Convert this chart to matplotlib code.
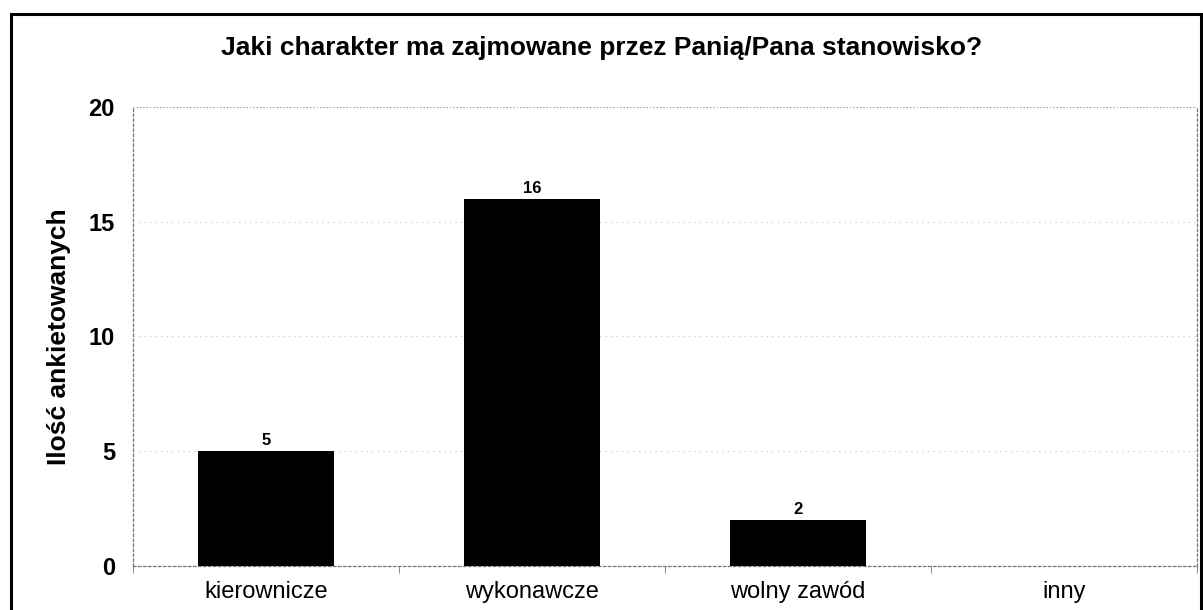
import matplotlib.pyplot as plt
from matplotlib.patches import Rectangle

categories = ["kierownicze", "wykonawcze", "wolny zawód", "inny"]
counts = [5, 16, 2, 0]
y_ticks = [0, 5, 10, 15, 20]

plt.rcParams['font.family'] = ['Liberation Sans', 'DejaVu Sans']

fig = plt.figure(figsize=(12.03, 6.10), dpi=100)
ax = fig.add_axes([0.1106, 0.0726, 0.8844, 0.752])

x = range(len(categories))
bars = ax.bar(x, counts, width=0.51, color="black", zorder=3)
for b, v in zip(bars, counts):
    if v > 0:
        ax.text(b.get_x() + b.get_width() / 2, v + 0.12, str(v),
                ha="center", va="bottom", fontsize=12, fontweight="bold")

ax.set_xlim(-0.5, len(categories) - 0.5)
ax.set_ylim(0, 20)
ax.set_yticks(y_ticks)
ax.set_yticklabels([str(t) for t in y_ticks], fontsize=17, fontweight="bold")
ax.tick_params(axis="y", length=0, pad=13)

ax.set_xticks(list(x))
ax.set_xticklabels(categories, fontsize=17)
ax.set_xticks([i + 0.5 for i in range(-1, len(categories))], minor=True)
ax.tick_params(axis="x", which="major", length=0, pad=11)
ax.tick_params(axis="x", which="minor", length=5, color="#777777")

ax.grid(axis="y", linestyle=(0, (1, 4)), color="#c8c8c8", linewidth=0.8, zorder=0)
ax.axhline(20, linestyle=(0, (1, 2)), color="#888888", linewidth=0.8, zorder=1)
for side in ["left", "right", "bottom", "top"]:
    ax.spines[side].set_linestyle((0, (2, 2)))
    ax.spines[side].set_color("#777777")
    ax.spines[side].set_linewidth(0.9)
ax.spines["top"].set_visible(False)

ax.set_ylabel("Ilość ankietowanych", fontsize=19, fontweight="bold", labelpad=13)

fig.text(0.5, 0.921, "Jaki charakter ma zajmowane przez Panią/Pana stanowisko?",
         ha="center", va="center", fontsize=19, fontweight="bold")

fig.patches.append(Rectangle((0.009, -0.05), 0.989, 1 - 14 / 610 + 0.05,
                             transform=fig.transFigure, fill=False,
                             edgecolor="black", linewidth=2.2))

fig.savefig("out.png", dpi=100)
